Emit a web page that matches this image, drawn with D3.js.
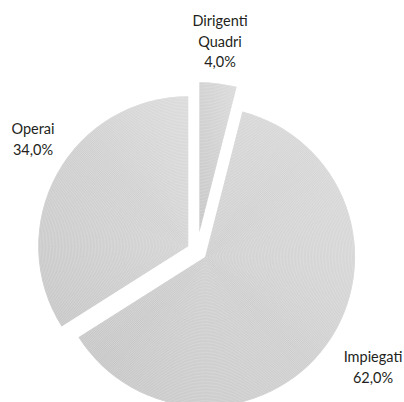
<!DOCTYPE html>
<html>
<head>
<meta charset="utf-8">
<script src="https://cdn.jsdelivr.net/npm/d3@7"></script>
<style>
  body { margin: 0; background: #fff; }
  text { font-family: Lato, "Open Sans", sans-serif; fill: #231f20; }
</style>
</head>
<body>
<svg id="chart" width="404" height="402"></svg>
<script>
// Workforce split by job category (percent)
const categories = ["Dirigenti Quadri", "Impiegati", "Operai"];
const shares = [4.0, 62.0, 34.0];
const labelLines = [["Dirigenti", "Quadri"], ["Impiegati"], ["Operai"]];

// Layout
const W = 404, H = 402;
const center = { x: 197, y: 251 };
const radius = 150;
const explode = [19, 10, 10];          // pull-out distance of each slice
const labelAnchor = [                   // x centre / first baseline of each label block
  { x: 220, y: 26 },
  { x: 373, y: 362 },
  { x: 33,  y: 134 }
];
const lineStep = 20.5;
const fmt = v => d3.format(".1f")(v).replace(".", ",") + "%";

const svg = d3.select("#chart");
const defs = svg.append("defs");

// soft grey shading shared by the slices
const grad = defs.append("linearGradient")
  .attr("id", "sliceShade")
  .attr("x1", 1).attr("y1", 0).attr("x2", 0).attr("y2", 1);
grad.append("stop").attr("offset", "0%").attr("stop-color", "#d8d8d8");
grad.append("stop").attr("offset", "100%").attr("stop-color", "#c2c2c2");

const pie = d3.pie().sort(null).value(d => d).startAngle(0).endAngle(2 * Math.PI);
const arcs = pie(shares);
const arc = d3.arc().innerRadius(0).outerRadius(radius);

// thin concentric rings that give the fills their engraved texture
const ringRadii = d3.range(1.5, radius + 2, 1.45);

arcs.forEach((a, i) => {
  const mid = (a.startAngle + a.endAngle) / 2;
  const dx = Math.sin(mid) * explode[i];
  const dy = -Math.cos(mid) * explode[i];
  const pos = `translate(${center.x + dx},${center.y + dy})`;

  const clipId = "clip" + i;
  defs.append("clipPath").attr("id", clipId)
    .append("path").attr("d", arc(a)).attr("transform", pos);

  svg.append("path")
    .attr("transform", pos)
    .attr("d", arc(a))
    .attr("fill", "url(#sliceShade)");

  svg.append("g").attr("clip-path", `url(#${clipId})`)
    .append("g").attr("transform", pos)
    .selectAll("circle")
    .data(ringRadii)
    .join("circle")
    .attr("r", d => d)
    .attr("fill", "none")
    .attr("stroke", "#ffffff")
    .attr("stroke-opacity", 0.5)
    .attr("stroke-width", 0.5);
});

// category labels with their share underneath
arcs.forEach((a, i) => {
  const lines = labelLines[i].concat([fmt(shares[i])]);
  const t = svg.append("text")
    .attr("text-anchor", "middle")
    .attr("font-size", 14.5);
  lines.forEach((s, k) => {
    t.append("tspan")
      .attr("x", labelAnchor[i].x)
      .attr("y", labelAnchor[i].y + k * lineStep)
      .text(s);
  });
});
</script>
</body>
</html>
